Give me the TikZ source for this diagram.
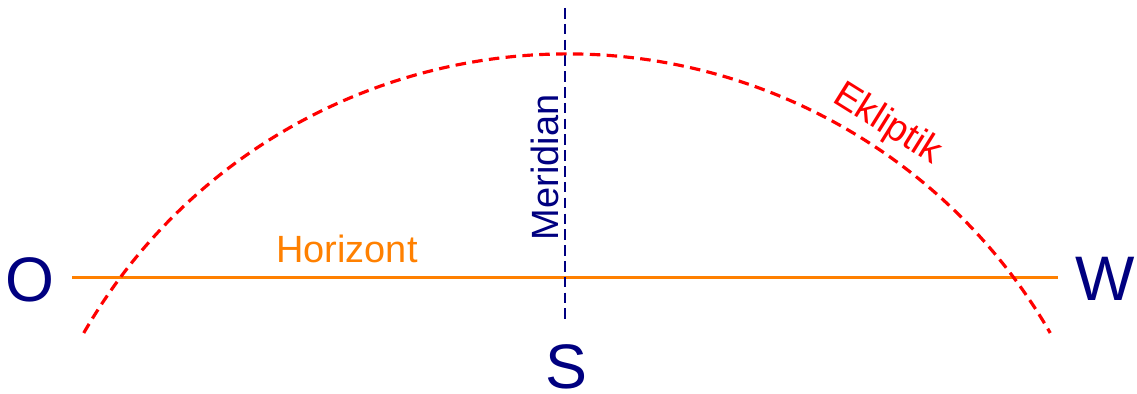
\documentclass[tikz,border=0pt]{standalone}
\usepackage{fontspec}
\setmainfont{Liberation Sans}
\usepackage{xcolor}
\usepackage{tikz}
\definecolor{himmelblau}{RGB}{0,0,128}
\definecolor{horizontorange}{RGB}{255,128,0}

\begin{document}
\begin{tikzpicture}[
    x=0.02cm, y=0.02cm,
    richtung/.style={text=himmelblau, font=\fontsize{35.8}{40}\selectfont, anchor=base, inner sep=0pt},
    beschriftung/.style={font=\fontsize{21.6}{26}\selectfont, anchor=base, inner sep=0pt},
    horizontlinie/.style={draw=horizontorange, line width=1.7pt},
    meridianlinie/.style={draw=himmelblau, line width=1.5pt, dash pattern=on 6pt off 3pt},
    ekliptiklinie/.style={draw=red, line width=1.8pt, dash pattern=on 6pt off 3.6pt}
]
\useasboundingbox (0,0) rectangle (1137,394);
% Himmelsrichtungen
\node [richtung] (ost) at (30,92) {O};
\node [richtung] (west) at (1105,93) {W};
\node [richtung] (sued) at (566,5) {S};
% Horizont und Meridian
\coordinate (horizontlinks) at (72,116);
\coordinate (horizontrechts) at (1058,116);
\coordinate (meridianoben) at (565,386);
\coordinate (meridianunten) at (565,71);
\draw [horizontlinie] (horizontlinks) -- (horizontrechts);
\draw [meridianlinie] (meridianoben) -- (meridianunten);
% Ekliptik als Kreisbogen
\coordinate (ekliptikmitte) at (567,-218);
\draw [ekliptiklinie] (ekliptikmitte) ++(150:558) arc[start angle=150, end angle=30, radius=558];
% Beschriftungen
\node [beschriftung, text=horizontorange] (horizont) at (347,131) {Horizont};
\node [beschriftung, text=himmelblau, rotate=90] (meridian) at (558,226.5) {Meridian};
\node [beschriftung, text=red, rotate=-32] (ekliptik) at (882,261) {Ekliptik};
\end{tikzpicture}
\end{document}
